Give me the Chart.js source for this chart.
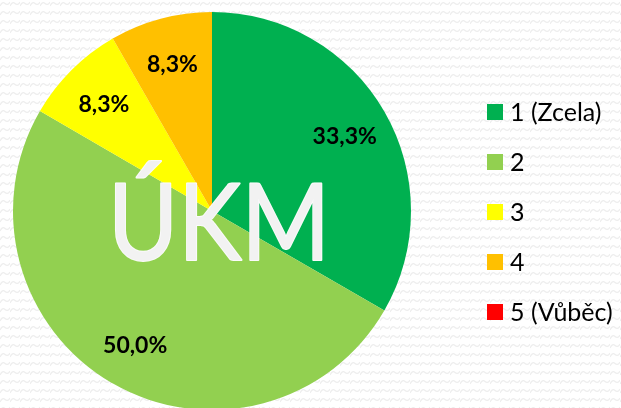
<!DOCTYPE html>
<html>
<head>
<meta charset="utf-8">
<script src="https://cdn.jsdelivr.net/npm/chart.js@4/dist/chart.umd.min.js"></script>
<style>
html,body{margin:0;padding:0;overflow:hidden;background:#fff;}
#wrap{position:relative;width:621px;height:420px;
background-color:#fff;
background-image:url("data:image/svg+xml;utf8,<svg xmlns='http://www.w3.org/2000/svg' width='10' height='9'><path d='M0 6 Q2.5 1 5 3.5 Q7.5 6 10 2' fill='none' stroke='%23eeeeee' stroke-width='1.3'/></svg>");}
</style>
</head>
<body>
<div id="wrap"><canvas id="c"></canvas></div>
<script>
const categories = ["1 (Zcela)", "2", "3", "4", "5 (Vůběc)"];
const values = [33.3, 50.0, 8.3, 8.3, 0];
const valueLabels = ["33,3%", "50,0%", "8,3%", "8,3%", "0,0%"];
const colors = ["#00B050", "#92D050", "#FFFF00", "#FFC000", "#FF0000"];
const centerTitle = "ÚKM";

const overlay = {
  id: 'overlay',
  afterDatasetsDraw(chart) {
    const ctx = chart.ctx;
    const meta = chart.getDatasetMeta(0);
    // data labels
    ctx.save();
    ctx.font = "bold 23px Lato";
    ctx.fillStyle = "#000";
    ctx.textAlign = "center";
    ctx.textBaseline = "middle";
    meta.data.forEach((arc, i) => {
      if (!values[i]) return;
      const p = arc.getProps(['x','y','startAngle','endAngle','outerRadius'], true);
      const mid = (p.startAngle + p.endAngle) / 2;
      const r = p.outerRadius * 0.77;
      ctx.fillText(valueLabels[i], p.x + Math.cos(mid) * r, p.y + Math.sin(mid) * r + 2);
    });
    ctx.restore();

    // center title
    const a = meta.data[0];
    ctx.save();
    ctx.font = "107px Lato";
    const w = ctx.measureText(centerTitle).width;
    const sx = 222 / w;
    ctx.translate(a.x + 7, a.y + 49);
    ctx.scale(sx, 1);
    ctx.textAlign = "center";
    ctx.textBaseline = "alphabetic";
    ctx.lineJoin = "round";
    ctx.lineWidth = 2;
    ctx.strokeStyle = "#fbfbfb";
    ctx.strokeText(centerTitle, 0, 0);
    ctx.fillStyle = "#f2f2f2";
    ctx.fillText(centerTitle, 0, 0);
    ctx.restore();

    // legend
    ctx.save();
    ctx.font = "25px Lato";
    ctx.textBaseline = "middle";
    ctx.textAlign = "left";
    categories.forEach((c, i) => {
      const y = 112 + i * 50;
      ctx.fillStyle = colors[i];
      ctx.fillRect(487, y - 8, 16, 16);
      ctx.fillStyle = "#000";
      ctx.fillText(c, 510, y + 1);
    });
    ctx.restore();
  }
};

new Chart(document.getElementById('c'), {
  type: 'pie',
  data: {
    labels: categories,
    datasets: [{ data: values, backgroundColor: colors, borderWidth: 0 }]
  },
  options: {
    responsive: true,
    maintainAspectRatio: false,
    animation: false,
    layout: { padding: { left: 13, right: 210, top: 12, bottom: 10 } },
    plugins: { legend: { display: false }, tooltip: { enabled: false } }
  },
  plugins: [overlay]
});
</script>
</body>
</html>
